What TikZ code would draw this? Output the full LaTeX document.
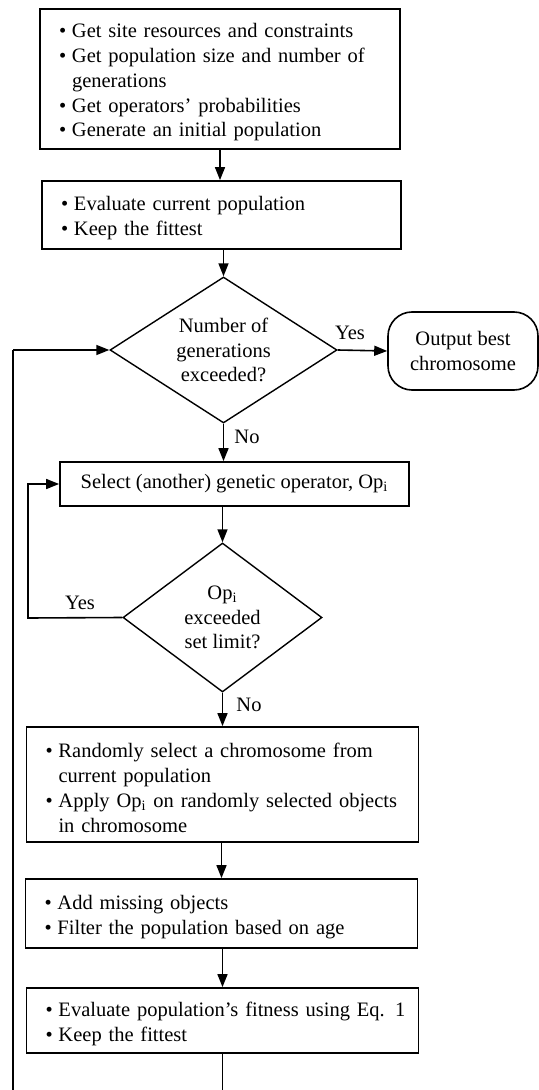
\documentclass[tikz,border=0pt]{standalone}
\usepackage{fontspec}
\setmainfont{Liberation Serif}
\usepackage{tikz}
\usetikzlibrary{shapes,arrows.meta,positioning,calc}

% one list line: bullet item, or continuation with hanging indent
\newcommand{\bul}[1]{\mbox{\makebox[6.5pt][l]{\textbullet}#1}}
\newcommand{\ind}[1]{\mbox{\hspace*{6.5pt}#1}}

\begin{document}
\begin{tikzpicture}[
    x=0.5pt, y=-0.5pt,
    font=\fontsize{10.25}{12.4}\selectfont,
    box/.style={draw, line width=0.9pt, align=left, inner xsep=9.5pt, inner ysep=0pt,
                execute at begin node={\rule{0pt}{10.5pt}}},
    opbox/.style={draw, line width=0.9pt, align=center, inner sep=0pt},
    decision/.style={diamond, draw, line width=0.7pt, aspect=1.5, inner sep=0pt, align=center,
                     execute at begin node={\rule{0pt}{10.5pt}}},
    terminal/.style={draw, line width=0.8pt, rounded corners=12pt, align=center,
                     minimum width=75pt, minimum height=39pt, inner sep=0pt,
                     execute at begin node={\rule{0pt}{10pt}}},
    arrow/.style={line width=0.8pt, -{Triangle[length=6.5pt,width=5pt]}},
    loop-line/.style={line width=1.2pt},
    lbl/.style={inner sep=0pt}
]
\useasboundingbox (0,0) rectangle (539,1090);

% Set-up and first evaluation
\node[box, text width=161pt, minimum height=70pt] (init) at (220,79) {%
    \bul{Get site resources and constraints}\\
    \bul{Get population size and number of}\\
    \ind{generations}\\
    \bul{Get operators' probabilities}\\
    \bul{Generate an initial population}};
\node[box, text width=160.5pt, minimum height=34pt] (eval) at (221.5,215) {%
    \bul{Evaluate current population}\\
    \bul{Keep the fittest}};

% Generation test and output
\node[decision, minimum width=113.5pt, minimum height=73pt] (gens) at (223.5,350) {Number of\\generations\\exceeded?};
\node[terminal] (best) at (463,351) {Output best\\chromosome};

% Operator selection and its limit test
\node[opbox, minimum width=174.5pt, minimum height=22pt] (select) at (234.5,484) {Select (another) genetic operator, Op\textsubscript{i}};
\node[decision, minimum width=99.5pt, minimum height=74.5pt] (limit) at (222.5,617.5) {Op\textsubscript{i}\\exceeded\\set limit?};

% Apply operator, repair and re-evaluate
\node[box, text width=177pt, minimum height=57.5pt] (apply) at (222.5,784.5) {%
    \bul{Randomly select a chromosome from}\\
    \ind{current population}\\
    \bul{Apply Op\textsubscript{i} on randomly selected objects}\\
    \ind{in chromosome}};
\node[box, text width=177pt, minimum height=34.5pt] (repair) at (221.5,913.5) {%
    \bul{Add missing objects}\\
    \bul{Filter the population based on age}};
\node[box, text width=177pt, minimum height=32.5pt] (reeval) at (222.5,1020.5) {%
    \bul{Evaluate population's fitness using Eq. 1}\\
    \bul{Keep the fittest}};

% Connect main flow with arrows
\draw[arrow] (init.south) -- (init.south |- eval.north);
\draw[arrow] (eval.south -| gens.north) -- (gens.north);
\draw[arrow] (gens.east) -- (best.west);
\draw[arrow] (gens.south) -- (gens.south |- select.north);
\draw[arrow] (select.south -| limit.north) -- (limit.north);
\draw[arrow] (limit.south) -- (limit.south |- apply.north);
\draw[arrow] (apply.south -| repair.north) -- (repair.north);
\draw[arrow] (repair.south -| reeval.north) -- (reeval.north);

% Branch labels
\node[lbl] (gens-yes) at (350,333) {Yes};
\node[lbl] (gens-no) at (247,437) {No};
\node[lbl] (limit-yes) at (80,603) {Yes};
\node[lbl] (limit-no) at (249,705) {No};

% Back to operator selection
\coordinate (limit-turn) at (28,618);
\draw[arrow] (limit.west) -- (limit-turn) |- (select.west);

% Next generation loop
\coordinate (loop-bottom) at (13,1100);
\draw[line width=0.8pt] (reeval.south) |- (loop-bottom);
\draw[loop-line] (loop-bottom) -- (loop-bottom |- gens.west);
\draw[arrow] (loop-bottom |- gens.west) -- (gens.west);

\end{tikzpicture}
\end{document}
